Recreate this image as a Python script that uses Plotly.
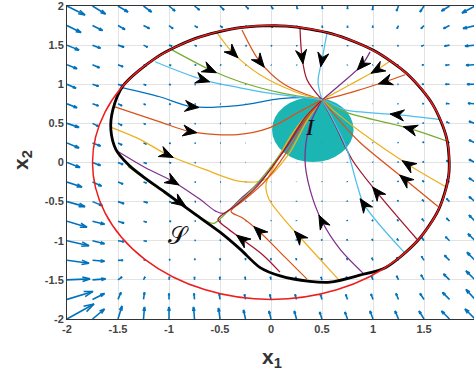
import plotly.graph_objects as go

# ---------------- data ----------------
x_grid = [-2.0, -1.75, -1.5, -1.25, -1.0, -0.75, -0.5, -0.25, 0.0, 0.25, 0.5, 0.75, 1.0, 1.25, 1.5, 1.75, 2.0]
y_grid = [2.0, 1.75, 1.5, 1.25, 1.0, 0.75, 0.5, 0.25, 0.0, -0.25, -0.5, -0.75, -1.0, -1.25, -1.5, -1.75, -2.0]

# quiver components (screen pixels, right / up)
u_field = [
    [18, 13, 10, 8, 6, 5, 4, 3, 2, 1, 0.5, 0, -0.5, -2, -4, -8, -13],
    [14, 10, 7, 6, 4, 3, 2.5, 2, 1.5, 1, 0.5, 0, -0.5, -1.5, -3, -6, -12],
    [12, 8, 6, 4, 3, 2, 1.5, 1, 0.7, 0.4, 0.2, 0, -0.4, -1, -2.5, -5, -10],
    [10, 7, 5, 3, 2, 1.5, 1, 0.6, 0.4, 0.2, 0, -0.2, -0.4, -1, -2, -4, -9],
    [9, 6, 4, 2.5, 1.5, 1, 0.6, 0.4, 0.2, 0.1, 0, -0.2, -0.4, -0.8, -2, -4, -8],
    [10, 6, 4, 2, 1.5, 1, 0.6, 0.4, 0.2, 0.1, 0, -0.2, -0.4, -0.8, -1.5, -3.5, -7],
    [12, 6, 4, 2, 1.5, 1, 0.6, 0.4, 0.2, 0.1, 0, -0.2, -0.4, -0.7, -1.2, -3, -6],
    [12, 8, 4, 3, 1.5, 1, 0.6, 0.4, 0.2, 0.1, 0, -0.2, -0.4, -0.7, -1.2, -3, -6],
    [13, 8, 5, 3, 2, 1, 0.7, 0.4, 0.2, 0.1, 0, -0.2, -0.4, -0.7, -1.2, -3, -6],
    [15, 9, 5, 3, 2, 1.2, 0.8, 0.5, 0.2, 0, -0.1, -0.3, -0.5, -0.8, -1.5, -3, -6],
    [18, 10, 6, 4, 2, 1.3, 0.8, 0.5, 0.2, 0, -0.2, -0.4, -0.6, -1, -1.8, -3, -6],
    [20, 12, 6, 3, 2, 1.2, 0.7, 0.4, 0.1, -0.1, -0.3, -0.5, -0.8, -1.2, -2, -3, -6],
    [22, 12, 6, 3, 1.5, 1, 0.5, 0.2, 0, -0.2, -0.4, -0.6, -1, -1.5, -2, -4, -7],
    [22, 12, 5, 2, 1, 0.5, 0.2, 0, -0.2, -0.4, -0.6, -0.8, -1.2, -1.8, -2.5, -5, -8],
    [23, 13, 4, 1.5, 0.5, 0, -0.3, -0.5, -0.6, -0.8, -1, -1.2, -1.5, -2, -3, -6, -9],
    [26, 12, 3, 1, 0, -0.5, -0.8, -1, -1.2, -1.4, -1.6, -1.8, -2, -2.5, -4, -7, -9],
    [27, 12, 4, 1, 0, -1, -1.5, -2, -2, -2.2, -2.4, -2.6, -3, -3.5, -5, -8, -10],
]
v_field = [
    [-9, -8, -6, -6, -5, -4, -4, -3, -3, -3, -3, -3, -4, -5, -6, -5, -7],
    [-7, -5, -4, -3, -3, -2, -2, -2, -2, -2, -2, -2, -2, -3, -3, -3, -3],
    [-5, -3, -2, -2, -1, -1, -1, -1, -1, -1, -1, -1, -1, -1, -1, -1, -1],
    [-4, -3, -2, -1, -0.8, -0.6, -0.5, -0.5, -0.5, -0.4, -0.4, -0.4, -0.4, -0.4, -0.4, -0.5, -0.5],
    [-4, -2, -1.5, -1, -0.6, -0.4, -0.3, -0.2, -0.2, -0.1, -0.1, -0.1, -0.1, -0.1, 0, 0, 0],
    [-4, -2, -2, -1, -0.6, -0.4, -0.3, -0.2, -0.1, 0, 0, 0, 0, 0, 0.2, 0.3, 0.5],
    [-4, -3, -2, -1, -0.6, -0.4, -0.2, -0.1, 0, 0.1, 0.1, 0.2, 0.2, 0.3, 0.5, 1.5, 2],
    [-5, -3, -2, -1, -0.6, -0.3, -0.1, 0, 0.1, 0.2, 0.2, 0.3, 0.3, 0.5, 1, 2, 3],
    [-5, -3, -2, -1, -0.5, -0.2, 0, 0.1, 0.2, 0.3, 0.4, 0.4, 0.5, 0.7, 1, 2, 3],
    [-5, -4, -2, -1, -0.4, -0.1, 0.1, 0.2, 0.3, 0.4, 0.5, 0.6, 0.7, 1, 1.5, 2.5, 4],
    [-5, -4, -2, -1, -0.3, 0, 0.2, 0.4, 0.5, 0.6, 0.7, 0.8, 1, 1.3, 2, 3, 5],
    [-6, -3, -2, -1, -0.2, 0.2, 0.4, 0.6, 0.7, 0.8, 0.9, 1, 1.2, 1.6, 2.5, 3, 6],
    [-5, -3, -1, -0.5, 0, 0.5, 0.8, 1, 1.1, 1.2, 1.3, 1.4, 1.6, 2, 3, 4, 7],
    [-3, -1, 0, 0.5, 1, 1.5, 1.8, 2, 2, 2, 2, 2.2, 2.5, 3, 4, 5, 8],
    [1, 1, 3, 3, 3, 3, 3, 3, 3, 3, 3, 3.2, 3.5, 4, 5, 6, 9],
    [8, 6, 7, 7, 6, 6, 6, 5, 5, 5, 5, 5, 5.5, 6, 6, 7, 10],
    [15, 10, 13, 12, 12, 12, 11, 9, 8, 8, 7, 7, 8, 8, 8, 8, 10],
]

# boundary of the set S (black): lower-left part, then the arc shared with the circle
s_x = [-1.451, -1.55, -1.57, -1.52, -1.40, -1.255, -1.04, -0.745, -0.50, -0.30, -0.11, 0.09, 0.38, 0.58, 0.87, 1.125,
       1.434, 1.644, 1.743, 1.723, 1.586, 1.341, 1.004, 0.599, 0.153, -0.304, -0.740, -1.125, -1.451]
s_y = [0.979, 0.675, 0.42, 0.166, -0.025, -0.18, -0.38, -0.66, -0.89, -1.11, -1.34, -1.45, -1.52, -1.53, -1.44, -1.341,
       -1.004, -0.599, -0.153, 0.304, 0.740, 1.125, 1.434, 1.644, 1.743, 1.723, 1.586, 1.341, 0.979]

# red circle (radius) and the set I (ellipse)
circle_r = 1.75
set_i_center = (0.41, 0.42)
set_i_radii = (0.40, 0.415)

# trajectories
blue_L_x = [-1.45, -1.09, -0.775, -0.33, 0.09, 0.33, 0.5]
blue_L_y = [0.955, 0.84, 0.713, 0.726, 0.815, 0.828, 0.8]
orange_L_x = [-1.53, -1.09, -0.794, -0.33, -0.01, 0.28, 0.5]
orange_L_y = [0.71, 0.52, 0.395, 0.357, 0.446, 0.65, 0.8]
yellow_L_x = [-1.56, -1.28, -1.02, -0.65, -0.30, -0.06, 0.17, 0.36, 0.5]
yellow_L_y = [0.446, 0.293, 0.102, -0.089, -0.242, -0.217, 0.102, 0.548, 0.8]
purple_L_x = [-1.5, -1.235, -0.961, -0.696, -0.539, -0.461, -0.304, -0.088, 0.137, 0.333, 0.5]
purple_L_y = [0.14, -0.064, -0.242, -0.471, -0.624, -0.65, -0.471, -0.217, 0.166, 0.548, 0.8]
green_L_x = [-1.402, -1.186, -0.892, -0.627, -0.559, -0.422, -0.206, 0.039, 0.284, 0.5]
green_L_y = [-0.051, -0.255, -0.51, -0.752, -0.777, -0.624, -0.369, 0.013, 0.484, 0.8]

lb_R_x = [1.657, 1.235, 0.716, 0.578, 0.5]
lb_R_y = [0.548, 0.611, 0.675, 0.764, 0.8]
green_R_x = [1.735, 1.363, 0.745, 0.578, 0.5]
green_R_y = [0.268, 0.433, 0.637, 0.739, 0.8]
yellow_R_x = [1.725, 1.343, 0.873, 0.627, 0.5]
yellow_R_y = [-0.318, -0.025, 0.395, 0.65, 0.8]
orange_R_x = [1.637, 1.314, 0.873, 0.647, 0.5]
orange_R_y = [-0.561, -0.217, 0.255, 0.573, 0.8]
dred_R_x = [1.431, 1.039, 0.794, 0.627, 0.5]
dred_R_y = [-0.981, -0.382, 0.038, 0.484, 0.8]

lb_B_x = [1.304, 0.912, 0.843, 0.745, 0.598, 0.5]
lb_B_y = [-1.146, -0.535, -0.28, 0.166, 0.573, 0.8]
purple_B_x = [0.912, 0.676, 0.5, 0.382, 0.333, 0.382, 0.5]
purple_B_y = [-1.427, -1.108, -0.752, -0.344, 0.038, 0.484, 0.8]
yellow_B_x = [0.667, 0.48, 0.275, 0.088, -0.02, -0.049, 0.039, 0.235, 0.402, 0.5]
yellow_B_y = [-1.503, -1.236, -0.943, -0.662, -0.471, -0.28, -0.025, 0.42, 0.675, 0.8]
orange_B_x = [0.353, 0.137, -0.118, -0.275, -0.392, -0.255, -0.059, 0.157, 0.343, 0.5]
orange_B_y = [-1.49, -1.21, -0.879, -0.713, -0.624, -0.471, -0.242, 0.14, 0.548, 0.8]
dred_B_x = [0.088, -0.088, -0.284, -0.441, -0.52, -0.343, -0.127, 0.118, 0.333, 0.5]
dred_B_y = [-1.401, -1.172, -0.981, -0.828, -0.726, -0.548, -0.293, 0.14, 0.573, 0.8]

orange_TR_x = [1.314, 1.118, 0.873, 0.676, 0.5]
orange_TR_y = [1.121, 1.032, 0.93, 0.854, 0.8]
yellow_TR_x = [1.157, 1.039, 0.775, 0.5]
yellow_TR_y = [1.287, 1.185, 0.994, 0.8]
purple_TR_x = [0.971, 0.892, 0.676, 0.5]
purple_TR_y = [1.414, 1.248, 0.994, 0.8]
lb_T_x = [0.549, 0.5, 0.461, 0.5]
lb_T_y = [1.656, 1.312, 1.032, 0.8]
dred_T_x = [0.284, 0.304, 0.353, 0.5]
dred_T_y = [1.72, 1.35, 1.057, 0.8]
orange_TL_x = [-0.284, -0.108, 0.137, 0.5]
orange_TL_y = [1.694, 1.287, 0.994, 0.8]
yellow_TL_x = [-0.529, -0.373, -0.108, 0.235, 0.5]
yellow_TL_y = [1.656, 1.401, 1.121, 0.904, 0.8]
green_TL_x = [-0.971, -0.598, -0.304, 0.088, 0.5]
green_TL_y = [1.439, 1.185, 1.032, 0.892, 0.8]
lb_TL_x = [-1.137, -0.667, -0.304, 0.088, 0.5]
lb_TL_y = [1.287, 1.057, 0.955, 0.866, 0.8]

C_BLUE, C_ORANGE, C_YELLOW = "#0072BD", "#D95319", "#EDB120"
C_PURPLE, C_GREEN, C_LBLUE, C_DRED = "#7E2F8E", "#77AC30", "#4DBEEE", "#A2142F"

# (x, y, colour, index of the point carrying the arrowhead)
trajectories = [
    (blue_L_x, blue_L_y, C_BLUE, 2),
    (orange_L_x, orange_L_y, C_ORANGE, 2),
    (yellow_L_x, yellow_L_y, C_YELLOW, 2),
    (purple_L_x, purple_L_y, C_PURPLE, 2),
    (green_L_x, green_L_y, C_GREEN, 2),
    (lb_R_x, lb_R_y, C_LBLUE, 1),
    (green_R_x, green_R_y, C_GREEN, 1),
    (yellow_R_x, yellow_R_y, C_YELLOW, 1),
    (orange_R_x, orange_R_y, C_ORANGE, 1),
    (dred_R_x, dred_R_y, C_DRED, 1),
    (lb_B_x, lb_B_y, C_LBLUE, 1),
    (purple_B_x, purple_B_y, C_PURPLE, 2),
    (yellow_B_x, yellow_B_y, C_YELLOW, 2),
    (orange_B_x, orange_B_y, C_ORANGE, 2),
    (dred_B_x, dred_B_y, C_DRED, 2),
    (orange_TR_x, orange_TR_y, C_ORANGE, 1),
    (yellow_TR_x, yellow_TR_y, C_YELLOW, 1),
    (purple_TR_x, purple_TR_y, C_PURPLE, 1),
    (lb_T_x, lb_T_y, C_LBLUE, 1),
    (dred_T_x, dred_T_y, C_DRED, 1),
    (orange_TL_x, orange_TL_y, C_ORANGE, 1),
    (yellow_TL_x, yellow_TL_y, C_YELLOW, 1),
    (green_TL_x, green_TL_y, C_GREEN, 1),
    (lb_TL_x, lb_TL_y, C_LBLUE, 1),
]

x_ticks = [-2, -1.5, -1, -0.5, 0, 0.5, 1, 1.5, 2]
x_tick_text = ["-2", "-1.5", "-1", "-0.5", "0", "0.5", "1", "1.5", "2"]
y_ticks = [-2, -1.5, -1, -0.5, 0, 0.5, 1, 1.5, 2]
y_tick_text = ["-2", "-1.5", "-1", "-0.5", "0", "0.5", "1", "1.5", "2"]

# ---------------- layout constants ----------------
W, H = 474, 377
ML, MT, MB, MR = 67, 6, 58, 0
XR = [-2.0, 1.99]
YR = [-2.0, 2.0]
SX = (W - ML - MR) / (XR[1] - XR[0])   # px per x unit
SY = (H - MT - MB) / (YR[1] - YR[0])   # px per y unit

fig = go.Figure()

# quiver
qx, qy = [], []
alpha, beta = 0.33, 0.30
for i, yv in enumerate(y_grid):
    for j, xv in enumerate(x_grid):
        u = u_field[i][j]
        v = v_field[i][j]
        tx, ty = xv + u / SX, yv + v / SY
        qx += [xv, tx, None]
        qy += [yv, ty, None]
        h1x = tx - alpha * (u + beta * v) / SX
        h1y = ty - alpha * (v - beta * u) / SY
        h2x = tx - alpha * (u - beta * v) / SX
        h2y = ty - alpha * (v + beta * u) / SY
        qx += [h1x, tx, h2x, None]
        qy += [h1y, ty, h2y, None]
fig.add_trace(go.Scatter(x=qx, y=qy, mode="lines", line=dict(color="#0072BD", width=1.6),
                         hoverinfo="skip", showlegend=False, connectgaps=False))

# trajectories
for xs, ys, col, k in trajectories:
    fig.add_trace(go.Scatter(x=xs, y=ys, mode="lines",
                             line=dict(color=col, width=1.25, shape="spline", smoothing=0.9),
                             hoverinfo="skip", showlegend=False))

# S boundary
fig.add_trace(go.Scatter(x=s_x, y=s_y, mode="lines",
                         line=dict(color="black", width=2.8, shape="spline", smoothing=0.8),
                         hoverinfo="skip", showlegend=False))

# arrowheads on trajectories
ax_, ay_ = [], []
LH, HW, NOTCH = 14.0, 5.5, 4.5
for xs, ys, col, k in trajectories:
    px0 = (xs[k + 1] - xs[k - 1]) * SX
    py0 = (ys[k + 1] - ys[k - 1]) * SY
    n = (px0 ** 2 + py0 ** 2) ** 0.5
    dx, dy = px0 / n, py0 / n
    qx_, qy_ = -dy, dx
    tipx, tipy = xs[k] * SX + dx * LH / 2, ys[k] * SY + dy * LH / 2
    bx, by = tipx - dx * LH, tipy - dy * LH
    pts = [(tipx, tipy), (bx + qx_ * HW, by + qy_ * HW),
           (tipx - dx * (LH - NOTCH), tipy - dy * (LH - NOTCH)),
           (bx - qx_ * HW, by - qy_ * HW), (tipx, tipy)]
    for (a, b) in pts:
        ax_.append(a / SX)
        ay_.append(b / SY)
    ax_.append(None)
    ay_.append(None)
fig.add_trace(go.Scatter(x=ax_, y=ay_, mode="lines", fill="toself", fillcolor="black",
                         line=dict(color="black", width=1), hoverinfo="skip", showlegend=False))

# shapes: set I (filled ellipse) and red circle
fig.add_shape(type="circle", xref="x", yref="y",
              x0=set_i_center[0] - set_i_radii[0], x1=set_i_center[0] + set_i_radii[0],
              y0=set_i_center[1] - set_i_radii[1], y1=set_i_center[1] + set_i_radii[1],
              fillcolor="#1BB6B4", line=dict(width=0), layer="between")
fig.add_shape(type="circle", xref="x", yref="y",
              x0=-circle_r, x1=circle_r, y0=-circle_r, y1=circle_r,
              line=dict(color="#EE1C1C", width=1.5), layer="above")

# labels
fig.add_annotation(x=0.38, y=0.45, xref="x", yref="y", text="<i>I</i>", showarrow=False,
                   font=dict(family="Liberation Serif", size=24, color="#111"))
fig.add_annotation(x=-0.91, y=-0.94, xref="x", yref="y", text="𝒮", showarrow=False,
                   font=dict(family="DejaVu Serif", size=24, color="#111"))

PW, PH = W - ML - MR, H - MT - MB
fig.add_annotation(x=(272 - ML) / PW, y=(H - MB - 358) / PH,
                   xref="paper", yref="paper", xanchor="center", yanchor="middle",
                   text="<b>x<sub>1</sub></b>", showarrow=False,
                   font=dict(family="Liberation Sans", size=21, color="#333"))
fig.add_annotation(x=(22 - ML) / PW, y=(H - MB - 160) / PH,
                   xref="paper", yref="paper", xanchor="center", yanchor="middle",
                   text="<b>x<sub>2</sub></b>", showarrow=False,
                   textangle=-90, font=dict(family="Liberation Sans", size=21, color="#333"))

axis_common = dict(showgrid=True, gridcolor="#E3E3E3", gridwidth=1, zeroline=False,
                   showline=True, linecolor="#333", linewidth=1, ticks="",
                   ticklabeloverflow="allow",
                   tickfont=dict(family="Liberation Sans", size=11, color="#444", weight="bold"))
fig.update_xaxes(range=XR, tickvals=x_ticks, ticktext=x_tick_text, mirror=True, **axis_common)
fig.update_yaxes(range=YR, tickvals=y_ticks, ticktext=y_tick_text, **axis_common)

fig.update_layout(width=W, height=H, margin=dict(l=ML, r=MR, t=MT, b=MB),
                  plot_bgcolor="white", paper_bgcolor="white", showlegend=False)

fig.write_html("out.html", config={"displayModeBar": False},
               post_script="document.body.style.margin='0px';")
